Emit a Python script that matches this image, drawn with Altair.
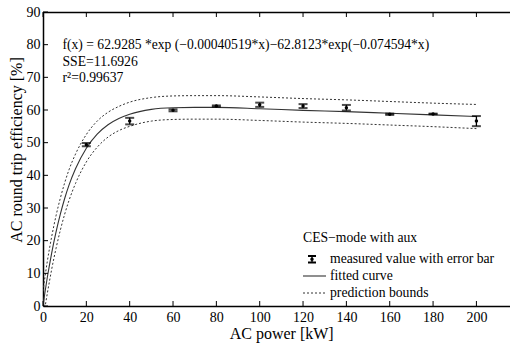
import altair as alt
import pandas as pd

# ---- data ----
meas_x = [20, 40, 60, 80, 100, 120, 140, 160, 180, 200]
meas_y = [49.4, 56.6, 59.9, 61.2, 61.6, 61.2, 60.7, 58.7, 58.8, 56.6]
meas_err = [0.5, 1.0, 0.3, 0.2, 0.65, 0.6, 0.85, 0.2, 0.1, 1.55]

fit_x = [0, 1, 2, 3, 4, 6, 8, 10, 12, 15, 20, 25, 30, 35, 40, 50, 60, 70, 80, 100, 120, 140, 160, 180, 200]
fit_y = [0.1, 4.6, 8.8, 12.6, 16.2, 22.6, 28.1, 32.9, 37.0, 42.0, 48.3, 52.6, 55.5, 57.4, 58.7, 60.2, 60.7, 60.8, 60.8, 60.4, 59.9, 59.5, 59.0, 58.5, 58.0]
upper = [4.5, 9.3, 13.7, 17.6, 21.2, 27.6, 33.0, 37.7, 41.7, 46.5, 52.5, 56.6, 59.3, 61.1, 62.4, 63.8, 64.3, 64.4, 64.4, 64.0, 63.5, 63.1, 62.6, 62.1, 61.7]
lower = [-4.3, -0.1, 3.9, 7.6, 11.2, 17.6, 23.2, 28.1, 32.3, 37.5, 44.1, 48.6, 51.7, 53.7, 55.0, 56.6, 57.1, 57.2, 57.2, 56.8, 56.3, 55.9, 55.4, 54.9, 54.3]

x_ticks = [0, 20, 40, 60, 80, 100, 120, 140, 160, 180, 200]
y_ticks = [0, 10, 20, 30, 40, 50, 60, 70, 80, 90]

annot_lines = ["f(x) = 62.9285 *exp (\u22120.00040519*x)\u221262.8123*exp(\u22120.074594*x)",
               "SSE=11.6926", "r\u00b2=0.99637"]
legend_title = "CES\u2212mode with aux"
legend_labels = ["measured value with error bar", "fitted curve", "prediction bounds"]
x_title = "AC power [kW]"
y_title = "AC round trip efficiency [%]"

FONT = "Liberation Serif"
W, H = 467, 294

xs = alt.Scale(domain=[0, 215.5], nice=False, zero=False)
ys = alt.Scale(domain=[0, 90], nice=False, zero=False)

meas = pd.DataFrame({"x": meas_x, "y": meas_y,
                     "lo": [a - b for a, b in zip(meas_y, meas_err)],
                     "hi": [a + b for a, b in zip(meas_y, meas_err)]})
fit = pd.DataFrame({"x": fit_x, "y": fit_y, "up": upper, "low": lower})

x_axis = alt.Axis(values=x_ticks, ticks=False, grid=False, title=None, domainColor="black",
                  domainWidth=1.5, labelFont=FONT, labelFontSize=14, labelColor="black",
                  labelPadding=4, labelFlush=False)
y_axis = alt.Axis(values=y_ticks, ticks=False, grid=False, title=None, domainColor="black",
                  domainWidth=1.5, labelFont=FONT, labelFontSize=14, labelColor="black",
                  labelPadding=3)

def X(f):
    return alt.X(f, scale=xs, axis=x_axis)

def Y(f):
    return alt.Y(f, scale=ys, axis=y_axis)

fit_line = alt.Chart(fit).mark_line(color="#333333", strokeWidth=1.1, interpolate="monotone", clip=True).encode(
    x=X("x:Q"), y=Y("y:Q"))
up_line = alt.Chart(fit).mark_line(color="#333333", strokeWidth=1, strokeDash=[2, 2], interpolate="monotone", clip=True).encode(
    x=X("x:Q"), y=Y("up:Q"))
low_line = alt.Chart(fit).mark_line(color="#333333", strokeWidth=1, strokeDash=[2, 2], interpolate="monotone", clip=True).encode(
    x=X("x:Q"), y=Y("low:Q"))

err_rule = alt.Chart(meas).mark_rule(color="black", strokeWidth=1.3).encode(
    x=X("x:Q"), y=Y("lo:Q"), y2="hi:Q")
cap_hi = alt.Chart(meas).mark_tick(color="black", orient="horizontal", size=9, thickness=2).encode(
    x=X("x:Q"), y=Y("hi:Q"))
cap_lo = alt.Chart(meas).mark_tick(color="black", orient="horizontal", size=9, thickness=2).encode(
    x=X("x:Q"), y=Y("lo:Q"))
dots = alt.Chart(meas).mark_point(color="black", filled=True, opacity=1, size=12).encode(
    x=X("x:Q"), y=Y("y:Q"))

# inward tick marks and top frame
xt = pd.DataFrame({"v": x_ticks})
yt = pd.DataFrame({"v": y_ticks})
bot_ticks = alt.Chart(xt).mark_rule(color="black", strokeWidth=1).encode(
    x=X("v:Q"), y=alt.value(H), y2=alt.value(H - 5))
top_ticks = alt.Chart(xt).mark_rule(color="black", strokeWidth=1).encode(
    x=X("v:Q"), y=alt.value(0), y2=alt.value(5))
left_ticks = alt.Chart(yt).mark_rule(color="black", strokeWidth=1).encode(
    y=Y("v:Q"), x=alt.value(0), x2=alt.value(5))
frame_df = pd.DataFrame({"a": [0]})
top_frame = alt.Chart(frame_df).mark_rule(color="black", strokeWidth=1.5).encode(
    x=alt.value(0), x2=alt.value(W), y=alt.value(0.5))

def label(txt, px, py, size=13.7, align="left", angle=None):
    kw = dict(align=align, baseline="middle", font=FONT, fontSize=size, color="black")
    if angle is not None:
        kw["angle"] = angle
    return alt.Chart(pd.DataFrame({"t": [txt]})).mark_text(**kw).encode(
        x=alt.value(px), y=alt.value(py), text="t:N")

texts = [label(annot_lines[0], 19.5, 33, size=13.6), label(annot_lines[1], 19.5, 50, size=13.7),
         label(annot_lines[2], 19.5, 65.5, size=13.7),
         label(legend_title, 260, 226),
         label(legend_labels[0], 287, 247), label(legend_labels[1], 287, 264), label(legend_labels[2], 287, 281),
         label(x_title, 238.7, 322, size=16, align="center"),
         label(y_title, -26, 138, size=16, align="center", angle=270)]

# legend symbols
leg_err = alt.Chart(frame_df).mark_rule(color="black", strokeWidth=1.3).encode(
    x=alt.value(269), y=alt.value(244), y2=alt.value(250.5))
leg_cap1 = alt.Chart(frame_df).mark_rule(color="black", strokeWidth=2).encode(
    x=alt.value(265), x2=alt.value(273), y=alt.value(244))
leg_cap2 = alt.Chart(frame_df).mark_rule(color="black", strokeWidth=2).encode(
    x=alt.value(265), x2=alt.value(273), y=alt.value(250.5))
leg_dot = alt.Chart(frame_df).mark_point(color="black", filled=True, opacity=1, size=12).encode(
    x=alt.value(269), y=alt.value(247.3))
leg_solid = alt.Chart(frame_df).mark_rule(color="#333333", strokeWidth=1.1).encode(
    x=alt.value(260), x2=alt.value(283), y=alt.value(264))
leg_dash = alt.Chart(frame_df).mark_rule(color="#333333", strokeWidth=1, strokeDash=[2, 2]).encode(
    x=alt.value(260), x2=alt.value(283), y=alt.value(281))

chart = alt.layer(
    fit_line, up_line, low_line, err_rule, cap_hi, cap_lo, dots,
    bot_ticks, top_ticks, left_ticks, top_frame,
    leg_err, leg_cap1, leg_cap2, leg_dot, leg_solid, leg_dash,
    *texts
).properties(
    width=W, height=H,
    padding={"left": 43, "top": 12, "right": 0, "bottom": 39},
    autosize=alt.AutoSizeParams(type="none"),
    background="white",
).configure_view(stroke=None)

chart.save("out.html", embed_options={"renderer": "svg", "actions": False})
